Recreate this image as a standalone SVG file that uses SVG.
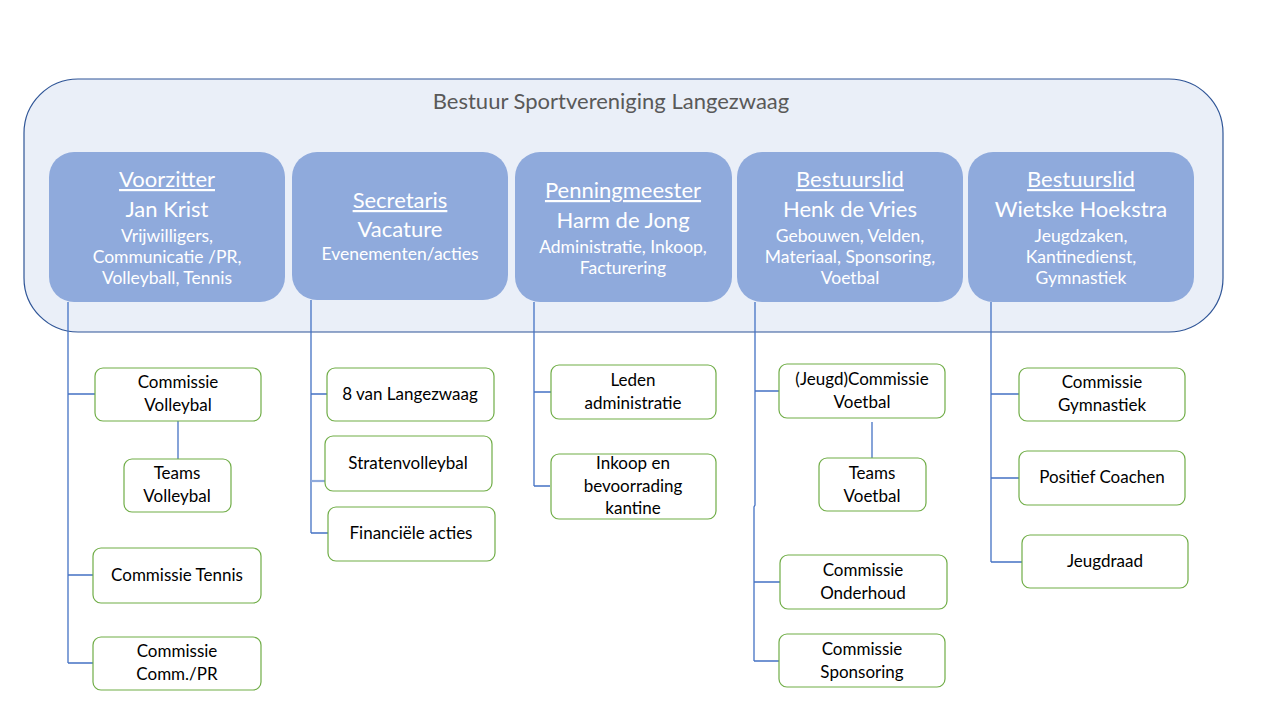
<svg xmlns="http://www.w3.org/2000/svg" width="1280" height="720" viewBox="0 0 1280 720">
<style>
.bg{fill:#FFFFFF}
.outer{fill:#EAEFF8;stroke:#2F5597;stroke-width:1.2}
.board{fill:#8FAADC}
.child{fill:#FFFFFF;stroke:#70AD47;stroke-width:1.2}
.title{font-family:Lato,"Liberation Sans",sans-serif;font-size:22px;fill:#595959;text-anchor:middle}
.role{font-family:Lato,"Liberation Sans",sans-serif;font-size:22px;fill:#FFFFFF;text-anchor:middle;text-decoration:underline}
.name{font-family:Lato,"Liberation Sans",sans-serif;font-size:22px;fill:#FFFFFF;text-anchor:middle}
.desc{font-family:Lato,"Liberation Sans",sans-serif;font-size:17.5px;fill:#FFFFFF;text-anchor:middle}
.ct{font-family:Lato,"Liberation Sans",sans-serif;font-size:17px;fill:#000000;text-anchor:middle}
.conn{fill:none;stroke:#4472C4;stroke-width:1.3}
</style>
<rect class="bg" x="0" y="0" width="1280" height="720"/>
<g id="bestuur">
<rect class="outer" x="24" y="79" width="1199" height="253" rx="54" ry="54"/>
<text class="title" x="611" y="109">Bestuur Sportvereniging Langezwaag</text>
</g>
<g id="connectors">
<path class="conn" d="M68,302 V663 M68,394 H95 M68,575 H93 M68,663 H93"/>
<path class="conn" d="M178,421 V459"/>
<path class="conn" d="M311,300 V533 M311,394 H327 M311,533 H328"/>
<path d="M311,481 H325" fill="none" stroke="#8FAADC" stroke-width="2.2"/>
<path class="conn" d="M534,302 V486 M534,392 H551 M534,486 H550"/>
<path class="conn" d="M755,302 V505 L754,507 V661 M755,391 H779 M754,582 H780 M754,661 H779"/>
<path class="conn" d="M872,422 V458"/>
<path class="conn" d="M991,302 V562 M991,394 H1019 M991,478 H1019 M991,562 H1022"/>
</g>
<g id="voorzitter">
<rect class="board" x="49" y="152" width="236" height="150" rx="25"/>
<text class="role" x="167" y="187">Voorzitter</text>
<text class="name" x="167" y="217">Jan Krist</text>
<text class="desc" x="167" y="242">Vrijwilligers,</text>
<text class="desc" x="167" y="263">Communicatie /PR,</text>
<text class="desc" x="167" y="284">Volleyball, Tennis</text>
</g>
<g id="secretaris">
<rect class="board" x="292" y="152" width="216" height="148" rx="25"/>
<text class="role" x="400" y="208">Secretaris</text>
<text class="name" x="400" y="237">Vacature</text>
<text class="desc" x="400" y="260">Evenementen/acties</text>
</g>
<g id="penningmeester">
<rect class="board" x="515" y="152" width="217" height="150" rx="25"/>
<text class="role" x="623" y="198">Penningmeester</text>
<text class="name" x="623" y="228">Harm de Jong</text>
<text class="desc" x="623" y="253">Administratie, Inkoop,</text>
<text class="desc" x="623" y="274">Facturering</text>
</g>
<g id="bestuurslid-henk">
<rect class="board" x="737" y="152" width="226" height="150" rx="25"/>
<text class="role" x="850" y="187">Bestuurslid</text>
<text class="name" x="850" y="217">Henk de Vries</text>
<text class="desc" x="850" y="242">Gebouwen, Velden,</text>
<text class="desc" x="850" y="263">Materiaal, Sponsoring,</text>
<text class="desc" x="850" y="284">Voetbal</text>
</g>
<g id="bestuurslid-wietske">
<rect class="board" x="968" y="152" width="226" height="150" rx="25"/>
<text class="role" x="1081" y="187">Bestuurslid</text>
<text class="name" x="1081" y="217">Wietske Hoekstra</text>
<text class="desc" x="1081" y="242">Jeugdzaken,</text>
<text class="desc" x="1081" y="263">Kantinedienst,</text>
<text class="desc" x="1081" y="284">Gymnastiek</text>
</g>
<g id="commissie-volleybal">
<rect class="child" x="95" y="368" width="166" height="53" rx="8"/>
<text class="ct" x="178" y="388">Commissie</text>
<text class="ct" x="178" y="411">Volleybal</text>
</g>
<g id="teams-volleybal">
<rect class="child" x="124" y="459" width="107" height="53" rx="8"/>
<text class="ct" x="177" y="479">Teams</text>
<text class="ct" x="177" y="502">Volleybal</text>
</g>
<g id="commissie-tennis">
<rect class="child" x="93" y="548" width="168" height="55" rx="8"/>
<text class="ct" x="177" y="581">Commissie Tennis</text>
</g>
<g id="commissie-commpr">
<rect class="child" x="93" y="637" width="168" height="53" rx="8"/>
<text class="ct" x="177" y="657">Commissie</text>
<text class="ct" x="177" y="680">Comm./PR</text>
</g>
<g id="acht-van-langezwaag">
<rect class="child" x="327" y="368" width="167" height="53" rx="8"/>
<text class="ct" x="410" y="400">8 van Langezwaag</text>
</g>
<g id="stratenvolleybal">
<rect class="child" x="325" y="436" width="167" height="55" rx="8"/>
<text class="ct" x="408" y="469">Stratenvolleybal</text>
</g>
<g id="financiele-acties">
<rect class="child" x="328" y="507" width="167" height="54" rx="8"/>
<text class="ct" x="411" y="539">Financiële acties</text>
</g>
<g id="leden-administratie">
<rect class="child" x="551" y="365" width="165" height="54" rx="8"/>
<text class="ct" x="633" y="386">Leden</text>
<text class="ct" x="633" y="409">administratie</text>
</g>
<g id="inkoop-kantine">
<rect class="child" x="551" y="454" width="165" height="65" rx="8"/>
<text class="ct" x="633" y="469">Inkoop en</text>
<text class="ct" x="633" y="492">bevoorrading</text>
<text class="ct" x="633" y="514">kantine</text>
</g>
<g id="jeugdcommissie-voetbal">
<rect class="child" x="779" y="364" width="166" height="54" rx="8"/>
<text class="ct" x="862" y="385">(Jeugd)Commissie</text>
<text class="ct" x="862" y="408">Voetbal</text>
</g>
<g id="teams-voetbal">
<rect class="child" x="819" y="458" width="107" height="53" rx="8"/>
<text class="ct" x="872" y="479">Teams</text>
<text class="ct" x="872" y="502">Voetbal</text>
</g>
<g id="commissie-onderhoud">
<rect class="child" x="780" y="555" width="167" height="54" rx="8"/>
<text class="ct" x="863" y="576">Commissie</text>
<text class="ct" x="863" y="599">Onderhoud</text>
</g>
<g id="commissie-sponsoring">
<rect class="child" x="779" y="634" width="166" height="53" rx="8"/>
<text class="ct" x="862" y="655">Commissie</text>
<text class="ct" x="862" y="678">Sponsoring</text>
</g>
<g id="commissie-gymnastiek">
<rect class="child" x="1019" y="368" width="166" height="53" rx="8"/>
<text class="ct" x="1102" y="388">Commissie</text>
<text class="ct" x="1102" y="411">Gymnastiek</text>
</g>
<g id="positief-coachen">
<rect class="child" x="1019" y="451" width="166" height="54" rx="8"/>
<text class="ct" x="1102" y="483">Positief Coachen</text>
</g>
<g id="jeugdraad">
<rect class="child" x="1022" y="535" width="166" height="53" rx="8"/>
<text class="ct" x="1105" y="567">Jeugdraad</text>
</g>
</svg>
